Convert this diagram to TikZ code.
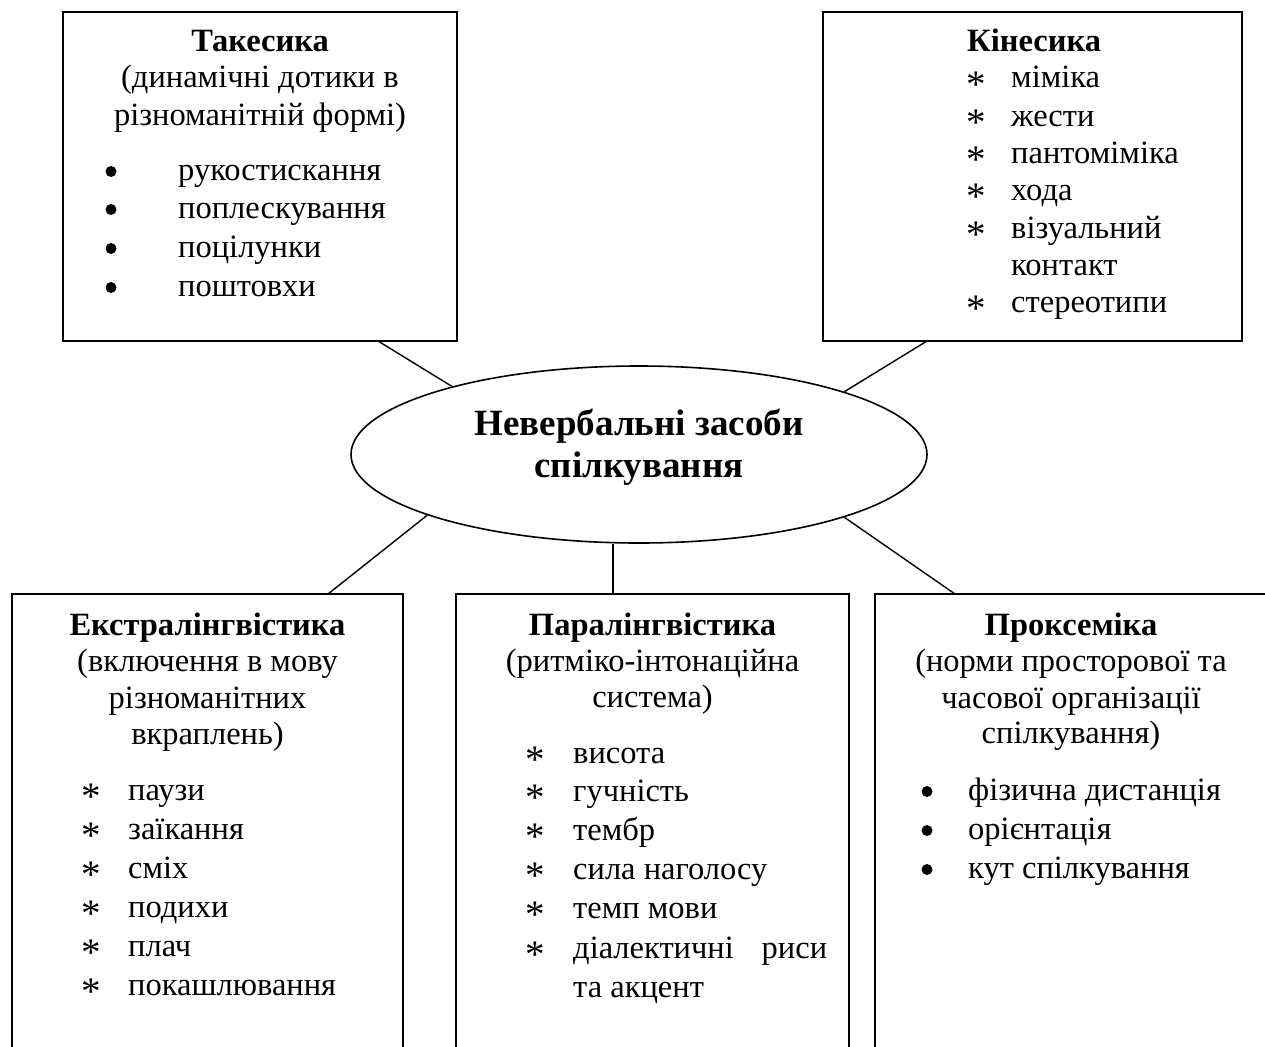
\documentclass[tikz,border=0pt]{standalone}
\usepackage{fontspec}
\usepackage{graphicx}
\setmainfont{Liberation Serif}
\usetikzlibrary{shapes.geometric}
\newcommand\mystar{\raisebox{-9.5pt}[0pt][0pt]{\scalebox{1.2}{*}}}
\tikzset{
  box/.style={draw, line width=2.2pt, inner sep=0pt, outer sep=0pt},
  body/.style={font=\fontsize{32.5}{39}\selectfont, inner sep=0pt, anchor=base west},
  head/.style={font=\fontsize{32.5}{39}\selectfont\bfseries, inner sep=0pt, anchor=base},
  sub/.style={font=\fontsize{32.5}{39}\selectfont, inner sep=0pt, anchor=base},
  dot/.style={circle, fill=black, inner sep=0pt, minimum size=11pt},
  link/.style={line width=1.4pt},
}
\begin{document}
\begin{tikzpicture}[x=1pt,y=-1pt]
\useasboundingbox (0,0) rectangle (1265,1046);
% boxes
\node[box, minimum width=394pt, minimum height=329pt] (tl) at (260,176.5) {};
\node[box, minimum width=419pt, minimum height=329pt] (tr) at (1032.5,176.5) {};
\node[box, minimum width=391pt, minimum height=480pt] (bl) at (207.5,834) {};
\node[box, minimum width=393pt, minimum height=480pt] (mb) at (652.5,834) {};
\node[box, minimum width=397pt, minimum height=480pt] (br) at (1073.5,834) {};
% ellipse
\node[draw, ellipse, line width=1.6pt, inner sep=0pt, minimum width=576pt, minimum height=177pt] (ell) at (639,454.5) {};
\node[head, font=\fontsize{37}{42}\selectfont\bfseries] (ell-t1) at (639,435) {Невербальні засоби};
\node[head, font=\fontsize{37}{42}\selectfont\bfseries] (ell-t2) at (639,477) {спілкування};
% connectors
\draw[link] ([xshift=-79pt]tl.south east) -- (ell.160.5);
\draw[link] ([xshift=104pt]tr.south west) -- (ell.17);
\draw[link] (ell.196.9) -- ([xshift=-75pt]bl.north east);
\draw[link] ([xshift=-39.5pt]mb.north |- ell.south) -- ([xshift=-39.5pt]mb.north);
\draw[link] (ell.-17) -- ([xshift=80pt]br.north west);
% top-left text
\node[head] (tl-h) at (260,52) {Такесика};
\node[sub] (tl-s1) at (260,88) {(динамічні дотики в};
\node[sub] (tl-s2) at (260,125) {різноманітній формі)};
\foreach \y/\t [count=\i] in {180/рукостискання,218/поплескування,257/поцілунки,296/поштовхи}{
  \node[dot] (tl-b\i) at (111,{\y-8.5}) {};
  \node[body] (tl-i\i) at (178,\y) {\t};
}
% top-right text
\node[body, font=\fontsize{32.5}{39}\selectfont\bfseries] (tr-h) at (967,52) {Кінесика};
\foreach \y/\t [count=\i] in {88/міміка,126/жести,163/пантоміміка,200/хода,238/візуальний,312/стереотипи}{
  \node[body] (tr-b\i) at (966,\y) {\mystar};
  \node[body] (tr-i\i) at (1011,\y) {\t};
}
\node[body] (tr-c) at (1011,275) {контакт};
% bottom-left text
\node[head] (bl-h) at (207.5,635) {Екстралінгвістика};
\node[sub] (bl-s1) at (207.5,671) {(включення в мову};
\node[sub] (bl-s2) at (207.5,708) {різноманітних};
\node[sub] (bl-s3) at (207.5,744) {вкраплень)};
\foreach \y/\t [count=\i] in {800/паузи,839/заїкання,878/сміх,917/подихи,956/плач,995/покашлювання}{
  \node[body] (bl-b\i) at (81,\y) {\mystar};
  \node[body] (bl-i\i) at (128,\y) {\t};
}
% middle text
\node[head] (mb-h) at (652.5,635) {Паралінгвістика};
\node[sub] (mb-s1) at (652.5,671) {(ритміко-інтонаційна};
\node[sub] (mb-s2) at (652.5,707) {система)};
\foreach \y/\t [count=\i] in {763/висота,801/гучність,840/тембр,879/сила наголосу,918/темп мови}{
  \node[body] (mb-b\i) at (525,\y) {\mystar};
  \node[body] (mb-i\i) at (573,\y) {\t};
}
\node[body] (mb-b6) at (525,958) {\mystar};
\node[body] (mb-i6) at (573,958) {\makebox[254pt][l]{діалектичні\hfill риси}};
\node[body] (mb-i7) at (573,997) {та акцент};
% bottom-right text
\node[head] (br-h) at (1071,635) {Проксеміка};
\node[sub] (br-s1) at (1071,671) {(норми просторової та};
\node[sub] (br-s2) at (1071,708) {часової організації};
\node[sub] (br-s3) at (1071,743) {спілкування)};
\foreach \y/\t [count=\i] in {800/фізична дистанція,839/орієнтація,878/кут спілкування}{
  \node[dot] (br-b\i) at (927,{\y-8.5}) {};
  \node[body] (br-i\i) at (968,\y) {\t};
}
\end{tikzpicture}
\end{document}
